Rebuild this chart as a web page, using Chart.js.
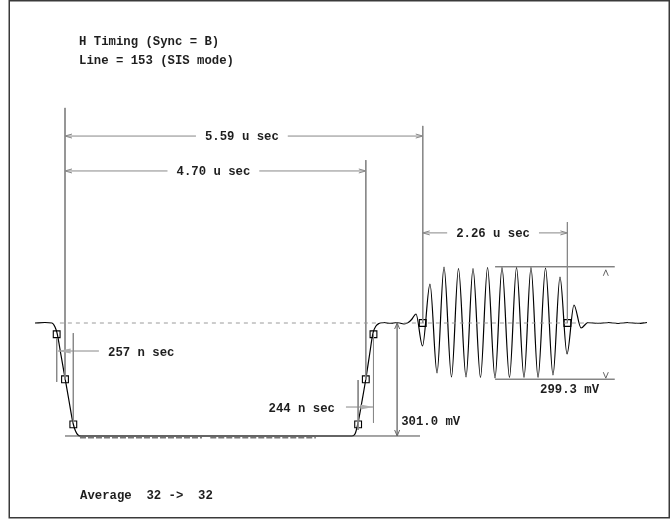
<!DOCTYPE html>
<html>
<head>
<meta charset="utf-8">
<script src="https://cdn.jsdelivr.net/npm/chart.js@4.4.1/dist/chart.umd.min.js"></script>
<style>
  html, body { margin: 0; padding: 0; background: #fff; }
  #wrap { width: 671px; height: 519px; }
</style>
</head>
<body>
<div id="wrap"><canvas id="scope" width="671" height="519"></canvas></div>
<script>
// trace: time in u sec from the sync 50% point, level in mV from blanking
const waveTime = [
  -0.469, -0.313, -0.203, -0.156, -0.125, -0.063, 0.000, 0.063, 0.125, 0.164,
  0.203, 0.250, 2.110, 4.484, 4.531, 4.578, 4.641, 4.703, 4.758, 4.813,
  4.859, 4.906, 4.984, 5.078, 5.188, 5.297, 5.375, 5.422, 5.484, 5.586,
  5.703, 5.813, 5.922, 6.039, 6.148, 6.266, 6.375, 6.492, 6.602, 6.719,
  6.828, 6.945, 7.055, 7.172, 7.281, 7.391, 7.508, 7.625, 7.734, 7.844,
  7.953, 8.063, 8.172, 8.328, 8.484, 8.641, 8.797, 8.953, 9.094
];
const waveMv = [
  0, 1.3, 0, -10.7, -26.6, -85.2, -146.5, -207.8, -266.4, -287.7,
  -298.3, -301, -301, -301, -295.7, -266.4, -207.8, -146.5, -85.2, -26.6,
  -8, -1.3, 1.3, -1.3, 1.3, -2.7, 2.7, 10.7, 24, -61.3,
  103.9, -133.2, 149.2, -143.9, 145.2, -143.9, 145.2, -145.2, 147.9, -146.5,
  147.9, -145.2, 147.9, -145.2, 147.9, -145.2, 146.5, -138.5, 122.5, -82.6,
  48, -13.3, 1.3, -1.3, 1.3, -1.3, 1.3, -1.3, 1.3
];

// measurement points (10/50/90 % of the sync edges, burst start/end)
const markerTime = [-0.13, 0, 0.13, 4.58, 4.70, 4.82, 5.59, 7.85];
const markerMv = [-30, -150, -270, -270, -150, -30, 0, 0];

// measured values
const spanLabels = ['5.59 u sec', '4.70 u sec', '2.26 u sec'];
const spanFrom = [0, 0, 5.59];
const spanTo = [5.59, 4.70, 7.85];
const edgeLabels = ['257 n sec', '244 n sec'];
const edgeFrom = [-0.13, 4.58];
const edgeTo = [0.13, 4.82];
const syncLabel = '301.0 mV';
const syncMv = -301.0;
const burstLabel = '299.3 mV';
const burstMv = [149.65, -149.65];
const headerLines = ['H Timing (Sync = B)', 'Line = 153 (SIS mode)'];
const footerText = 'Average  32 ->  32';

// layout (in chart units)
const spanLevel = [498, 405, 240];
const spanTop = [525, 434, 269];
const syncArrowAt = 5.19;
const burstLineFrom = 6.72, burstLineTo = 8.59, burstChevronAt = 8.45;
const FONT = 'bold 12.3px "Liberation Mono", "Courier New", monospace';
const GRAY = '#888';

function segments(list) {
  const pts = [];
  list.forEach(s => pts.push({ x: s[0], y: s[1] }, { x: s[2], y: s[3] }, { x: s[2], y: null }));
  return pts;
}

const grayLines = segments([
  [0, 573, 0, -150.5],
  [spanTo[1], spanTop[1], spanTo[1], -150.5],
  [spanTo[0], spanTop[0], spanTo[0], 0],
  [spanTo[2], spanTop[2], spanTo[2], 0],
  [edgeFrom[0], -40, edgeFrom[0], -157],
  [edgeTo[0], -27, edgeTo[0], -266],
  [edgeFrom[1], -152, edgeFrom[1], -285],
  [edgeTo[1], -27, edgeTo[1], -266],
  [syncArrowAt, 0, syncArrowAt, syncMv],
  [-0.11, -74.6, 0.53, -74.6],
  [4.39, -223.8, edgeTo[1], -223.8]
]);

const darkLines = segments([
  [0, syncMv, 5.547, syncMv],
  [burstLineFrom, burstMv[0], burstLineTo, burstMv[0]],
  [burstLineFrom, burstMv[1], burstLineTo, burstMv[1]]
]);

const smudge = segments([
  [0.234, -306, 2.14, -306],
  [2.27, -306, 3.92, -306]
]);

const overlay = {
  id: 'overlay',
  beforeDraw(chart) {
    const ctx = chart.ctx;
    ctx.save();
    ctx.fillStyle = '#fff';
    ctx.fillRect(0, 0, chart.width, chart.height);
    ctx.restore();
  },
  afterDatasetsDraw(chart) {
    const { ctx, scales: { x, y } } = chart;
    ctx.save();
    ctx.font = FONT;
    ctx.fillStyle = '#1e1e1e';
    ctx.strokeStyle = GRAY;
    ctx.lineWidth = 1;
    ctx.textBaseline = 'alphabetic';

    const line = (x0, y0, x1, y1) => { ctx.beginPath(); ctx.moveTo(x0, y0); ctx.lineTo(x1, y1); ctx.stroke(); };

    // span dimensions with open arrowheads
    spanLabels.forEach((lab, i) => {
      const a = x.getPixelForValue(spanFrom[i]);
      const b = x.getPixelForValue(spanTo[i]);
      const yy = y.getPixelForValue(spanLevel[i]);
      const w = ctx.measureText(lab).width;
      const cx = (a + b) / 2 - 2;
      ctx.strokeStyle = GRAY;
      line(a, yy, cx - w / 2 - 9, yy);
      line(cx + w / 2 + 9, yy, b, yy);
      line(a, yy, a + 7, yy - 2); line(a, yy, a + 7, yy + 2);
      line(b, yy, b - 7, yy - 2); line(b, yy, b - 7, yy + 2);
      ctx.textAlign = 'center';
      ctx.fillText(lab, cx, yy + 4);
    });

    // rise / fall arrows
    const leaf = (tip, yy, dir) => {
      ctx.fillStyle = '#b0b0b0';
      ctx.beginPath();
      ctx.moveTo(tip, yy);
      ctx.lineTo(tip + dir * 13, yy - 2.5);
      ctx.lineTo(tip + dir * 13, yy + 2.5);
      ctx.closePath();
      ctx.fill();
      ctx.fillStyle = '#1e1e1e';
    };
    const fallY = y.getPixelForValue(-74.6);
    leaf(x.getPixelForValue(edgeFrom[0]) + 1, fallY, 1);
    ctx.textAlign = 'left';
    ctx.fillText(edgeLabels[0], x.getPixelForValue(0.672), fallY + 5);
    const riseY = y.getPixelForValue(-223.8);
    leaf(x.getPixelForValue(edgeTo[1]), riseY, -1);
    ctx.textAlign = 'right';
    ctx.fillText(edgeLabels[1], x.getPixelForValue(4.39) - 11, riseY + 5);

    // chevrons for the level measurements
    const chevron = (cx, tipY, dir) => {
      ctx.strokeStyle = '#666';
      line(cx - 2.5, tipY + dir * 6, cx, tipY);
      line(cx, tipY, cx + 2.5, tipY + dir * 6);
    };
    const sx = x.getPixelForValue(syncArrowAt);
    chevron(sx, y.getPixelForValue(0), 1);
    chevron(sx, y.getPixelForValue(syncMv), -1);
    ctx.textAlign = 'left';
    ctx.fillText(syncLabel, sx + 4, y.getPixelForValue(syncMv) - 11);

    const bx = x.getPixelForValue(burstChevronAt);
    chevron(bx, y.getPixelForValue(burstMv[0]) + 3, 1);
    chevron(bx, y.getPixelForValue(burstMv[1]) - 1, -1);
    ctx.fillText(burstLabel, 540, y.getPixelForValue(burstMv[1]) + 14);

    // header and footer text
    ctx.fillText(headerLines[0], 79, 44.5);
    ctx.fillText(headerLines[1], 79, 63.5);
    ctx.fillText(footerText, 80, 499);

    // frame
    ctx.strokeStyle = '#3a3a3a';
    ctx.lineWidth = 1.5;
    ctx.strokeRect(9.25, 0.75, 660, 517);
    ctx.restore();
  }
};

new Chart(document.getElementById('scope'), {
  type: 'line',
  data: {
    datasets: [
      {
        data: [{ x: -0.08, y: 0 }, { x: 9.06, y: 0 }],
        borderColor: '#9a9a9a', borderWidth: 1, borderDash: [4, 4], pointRadius: 0
      },
      {
        data: grayLines,
        borderColor: GRAY, borderWidth: 1, pointRadius: 0, spanGaps: false
      },
      {
        data: darkLines,
        borderColor: '#4a4a4a', borderWidth: 1, pointRadius: 0, spanGaps: false
      },
      {
        data: smudge,
        borderColor: '#777', borderWidth: 1.5, borderDash: [6, 2], pointRadius: 0, spanGaps: false
      },
      {
        data: waveTime.map((t, i) => ({ x: t, y: waveMv[i] })),
        borderColor: '#000', borderWidth: 1.2, pointRadius: 0,
        cubicInterpolationMode: 'monotone'
      },
      {
        data: markerTime.map((t, i) => ({ x: t, y: markerMv[i] })),
        showLine: false, pointStyle: 'rect', pointRadius: 4.8,
        pointBorderColor: '#000', pointBorderWidth: 1.1, pointBackgroundColor: 'rgba(255,255,255,0)'
      }
    ]
  },
  options: {
    responsive: false,
    animation: false,
    events: [],
    layout: { padding: 0, autoPadding: false },
    scales: {
      x: { type: 'linear', min: -1.015625, max: 9.46875, display: false },
      y: { type: 'linear', min: -522.1, max: 860.4, display: false }
    },
    plugins: { legend: { display: false }, tooltip: { enabled: false } }
  },
  plugins: [overlay]
});
</script>
</body>
</html>
